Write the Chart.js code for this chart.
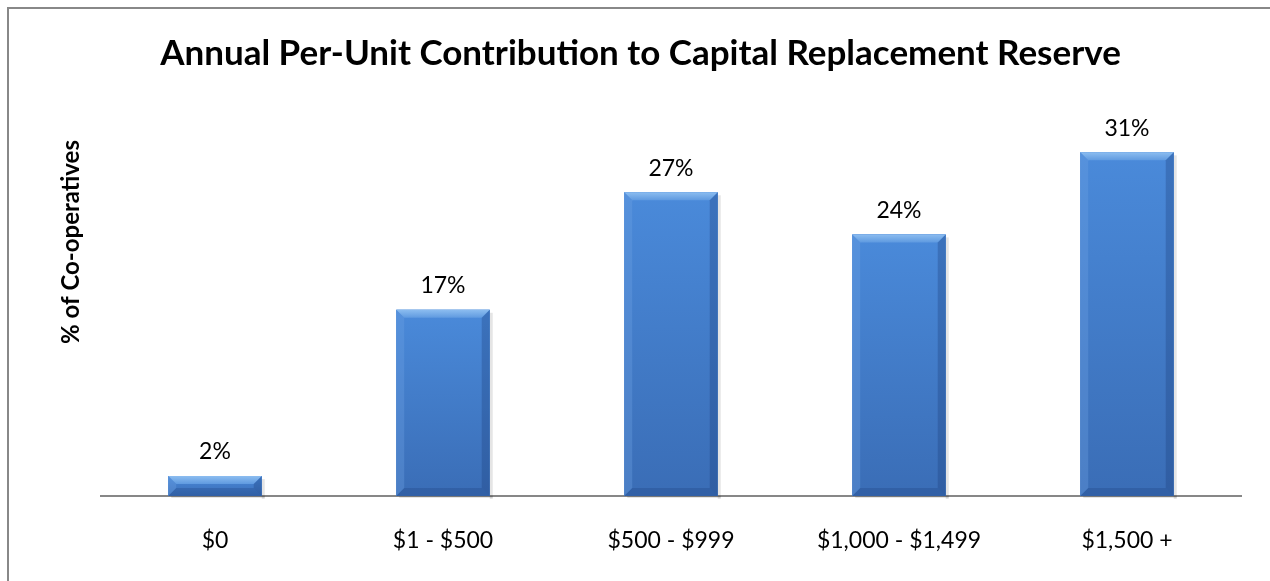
<!DOCTYPE html>
<html>
<head>
<meta charset="utf-8">
<script src="https://cdn.jsdelivr.net/npm/chart.js@4/dist/chart.umd.min.js"></script>
<style>
html,body{margin:0;padding:0;background:#fff;}
#wrap{width:1270px;height:581px;position:relative;}
</style>
</head>
<body>
<div id="wrap"><canvas id="c" width="1270" height="581"></canvas></div>
<script>
const categories = ["$0", "$1 - $500", "$500 - $999", "$1,000 - $1,499", "$1,500 +"];
const shareValues = [1.8, 16.8, 27.4, 23.6, 31.0];
const shareLabels = ["2%", "17%", "27%", "24%", "31%"];
const chartTitle = "Annual Per-Unit Contribution to Capital Replacement Reserve";
const yAxisTitle = "% of Co-operatives";

const FONT = "Lato, 'Open Sans', sans-serif";

const framePlugin = {
  id: 'frame',
  beforeDraw(chart) {
    const ctx = chart.ctx;
    ctx.save();
    ctx.fillStyle = '#fff';
    ctx.fillRect(0, 0, chart.width, chart.height);
    ctx.strokeStyle = '#888888';
    ctx.lineWidth = 2;
    ctx.strokeRect(8, 8, 1400, 800);
    ctx.restore();
  },
  afterDraw(chart) {
    const ctx = chart.ctx;
    ctx.save();
    ctx.translate(71, 242);
    ctx.rotate(-Math.PI / 2);
    ctx.font = "bold 24px " + FONT;
    ctx.fillStyle = '#000';
    ctx.textAlign = 'center';
    ctx.textBaseline = 'middle';
    ctx.fillText(yAxisTitle, 0, 0);
    ctx.restore();
  }
};

const bevelPlugin = {
  id: 'bevel',
  afterDatasetsDraw(chart) {
    const ctx = chart.ctx;
    const meta = chart.getDatasetMeta(0);
    meta.data.forEach((bar, i) => {
      const w = bar.width;
      const l = bar.x - w / 2, r = bar.x + w / 2, t = bar.y, b = bar.base;
      const h = b - t;
      const bv = Math.min(8, h / 2);
      ctx.save();
      // shadow
      ctx.fillStyle = 'rgba(0,0,0,0.10)';
      ctx.fillRect(r, t + 3, 3, h);
      ctx.fillRect(l + 3, b, w, 2);
      // face gradient
      const g = ctx.createLinearGradient(0, t, 0, b);
      g.addColorStop(0, '#4A8ADA');
      g.addColorStop(1, '#3A6DB6');
      ctx.fillStyle = g;
      ctx.fillRect(l, t, w, h);
      // top bevel
      ctx.beginPath();
      ctx.moveTo(l, t); ctx.lineTo(r, t); ctx.lineTo(r - bv, t + bv); ctx.lineTo(l + bv, t + bv); ctx.closePath();
      const gt = ctx.createLinearGradient(0, t, 0, t + bv);
      gt.addColorStop(0, '#8CBDF0');
      gt.addColorStop(1, '#5F9AE0');
      ctx.fillStyle = gt; ctx.fill();
      // left bevel
      ctx.beginPath();
      ctx.moveTo(l, t); ctx.lineTo(l + bv, t + bv); ctx.lineTo(l + bv, b - bv); ctx.lineTo(l, b); ctx.closePath();
      ctx.fillStyle = 'rgba(110,160,225,0.35)'; ctx.fill();
      // right bevel
      ctx.beginPath();
      ctx.moveTo(r, t); ctx.lineTo(r - bv, t + bv); ctx.lineTo(r - bv, b - bv); ctx.lineTo(r, b); ctx.closePath();
      ctx.fillStyle = 'rgba(25,60,120,0.30)'; ctx.fill();
      // bottom bevel
      ctx.beginPath();
      ctx.moveTo(l, b); ctx.lineTo(l + bv, b - bv); ctx.lineTo(r - bv, b - bv); ctx.lineTo(r, b); ctx.closePath();
      ctx.fillStyle = 'rgba(20,50,110,0.22)'; ctx.fill();
      // label
      ctx.font = "23px " + FONT;
      ctx.fillStyle = '#000';
      ctx.textAlign = 'center';
      ctx.textBaseline = 'middle';
      ctx.fillText(shareLabels[i], bar.x, t - 24);
      ctx.restore();
    });
  }
};

new Chart(document.getElementById('c'), {
  type: 'bar',
  data: {
    labels: categories,
    datasets: [{
      data: shareValues,
      backgroundColor: '#4280D0',
      borderWidth: 0,
      barPercentage: 0.41,
      categoryPercentage: 1.0
    }]
  },
  options: {
    responsive: false,
    animation: false,
    layout: { padding: { left: 40, right: 29, top: 31, bottom: 0 } },
    plugins: {
      legend: { display: false },
      tooltip: { enabled: false },
      title: {
        display: true,
        text: chartTitle,
        font: { family: FONT, size: 35, weight: 'bold' },
        color: '#000',
        padding: { top: 2, bottom: 33 }
      }
    },
    scales: {
      x: {
        grid: { display: false, drawTicks: false },
        border: { display: true, color: '#878787', width: 2 },
        ticks: { color: '#000', font: { family: FONT, size: 23 }, padding: 31 },
        afterFit(scale) { scale.height = 85; }
      },
      y: {
        display: true,
        min: 0,
        max: 35,
        grid: { display: false, drawTicks: false },
        border: { display: false },
        ticks: { display: false },
        afterFit(scale) { scale.width = 61; }
      }
    }
  },
  plugins: [framePlugin, bevelPlugin]
});
</script>
</body>
</html>
